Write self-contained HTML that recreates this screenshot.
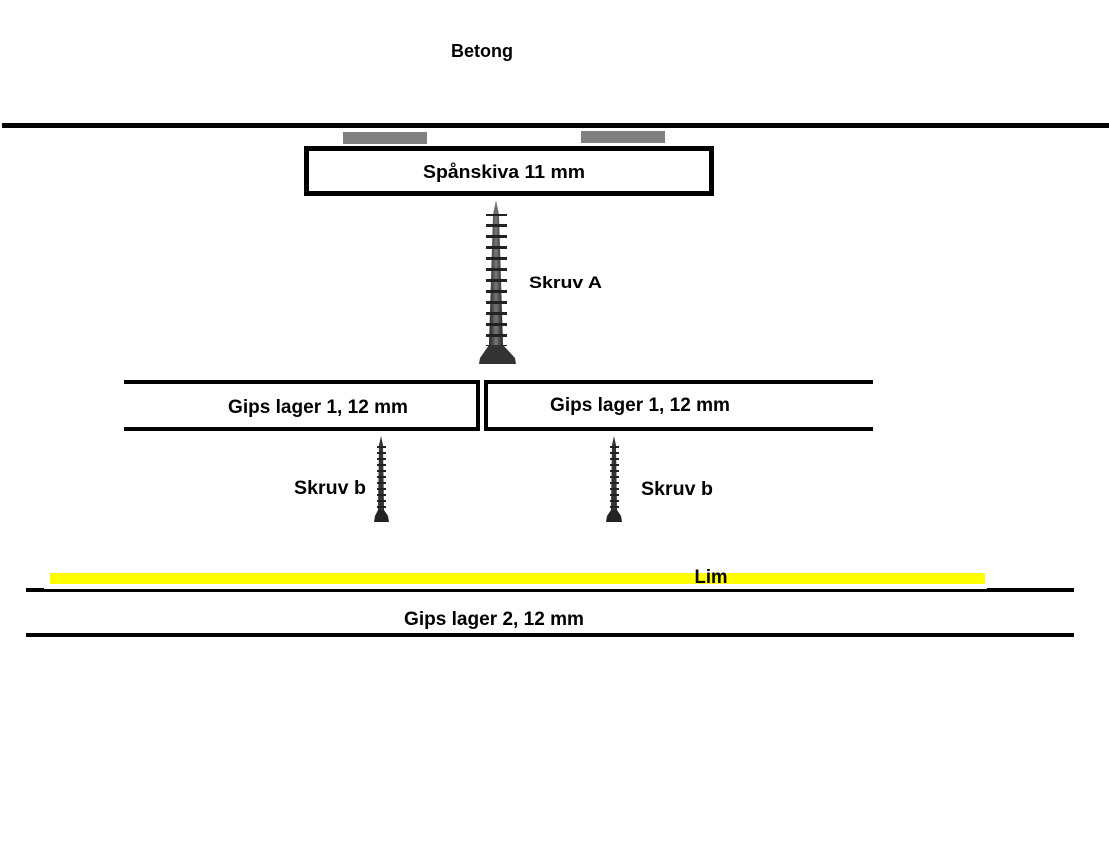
<!DOCTYPE html>
<html><head><style>body{margin:0;background:#fff}svg{display:block}</style></head>
<body>
<svg width="1109" height="845" xmlns="http://www.w3.org/2000/svg" font-family="Liberation Sans, sans-serif" font-weight="bold">
<defs>
<linearGradient id="g" x1="0" x2="1"><stop offset="0" stop-color="#222"/><stop offset="0.5" stop-color="#777"/><stop offset="1" stop-color="#222"/></linearGradient>
<pattern id="th" width="20" height="11" patternUnits="userSpaceOnUse"><rect x="0" y="4" width="20" height="3" fill="#222"/></pattern>
<pattern id="th2" width="20" height="6" patternUnits="userSpaceOnUse"><rect x="0" y="2" width="20" height="2" fill="#222"/></pattern>
</defs>
<text x="482" y="57" font-size="18" text-anchor="middle">Betong</text>
<rect x="2" y="123" width="1107" height="5" fill="#000"/>
<rect x="343" y="132" width="84" height="12" fill="#808080"/>
<rect x="581" y="131" width="84" height="12" fill="#808080"/>
<rect x="306.5" y="148.5" width="405" height="45" fill="none" stroke="#000" stroke-width="5"/>
<text x="504" y="178" font-size="18" text-anchor="middle" textLength="162" lengthAdjust="spacingAndGlyphs">Spånskiva 11 mm</text>
<!-- screw A -->
<polygon points="496,200 499,215 503,345 489,345 493,215" fill="url(#g)"/>
<rect x="486" y="214" width="21" height="132" fill="url(#th)"/>
<path d="M489,345 L503,345 L515,358 L516,364 L479,364 L480,358 Z" fill="#333"/>
<text x="529" y="288" font-size="17" textLength="73" lengthAdjust="spacingAndGlyphs">Skruv A</text>
<!-- gips lager 1 -->
<rect x="124" y="380" width="356" height="4" fill="#000"/>
<rect x="124" y="427" width="356" height="4" fill="#000"/>
<rect x="476" y="380" width="4" height="51" fill="#000"/>
<rect x="484" y="380" width="389" height="4" fill="#000"/>
<rect x="484" y="427" width="389" height="4" fill="#000"/>
<rect x="484" y="380" width="4" height="51" fill="#000"/>
<text x="318" y="413" font-size="19" text-anchor="middle" textLength="180" lengthAdjust="spacingAndGlyphs">Gips lager 1, 12 mm</text>
<text x="640" y="411" font-size="19" text-anchor="middle" textLength="180" lengthAdjust="spacingAndGlyphs">Gips lager 1, 12 mm</text>
<!-- screws b -->
<g>
<polygon points="381,436 383,445 384,510 378,510 379,445" fill="#333"/>
<rect x="377" y="445" width="9" height="65" fill="url(#th2)"/>
<path d="M378,510 L384,510 L388,516 L389,522 L374,522 L375,516 Z" fill="#222"/>
</g>
<g>
<polygon points="614,436 616,445 617,510 611,510 612,445" fill="#333"/>
<rect x="610" y="445" width="9" height="65" fill="url(#th2)"/>
<path d="M611,510 L617,510 L621,516 L622,522 L606,522 L607,516 Z" fill="#222"/>
</g>
<text x="330" y="494" font-size="19" text-anchor="middle" textLength="72" lengthAdjust="spacingAndGlyphs">Skruv b</text>
<text x="677" y="495" font-size="19" text-anchor="middle" textLength="72" lengthAdjust="spacingAndGlyphs">Skruv b</text>
<!-- lim -->
<rect x="50" y="573" width="935" height="11" fill="#ffff00"/>
<text x="711" y="583" font-size="19" text-anchor="middle" textLength="33" lengthAdjust="spacingAndGlyphs">Lim</text>
<rect x="26" y="588" width="1048" height="4" fill="#000"/>
<rect x="44" y="587" width="943" height="2" fill="#fff"/>
<text x="494" y="625" font-size="19" text-anchor="middle" textLength="180" lengthAdjust="spacingAndGlyphs">Gips lager 2, 12 mm</text>
<rect x="26" y="633" width="1048" height="4" fill="#000"/>
</svg>
</body></html>
